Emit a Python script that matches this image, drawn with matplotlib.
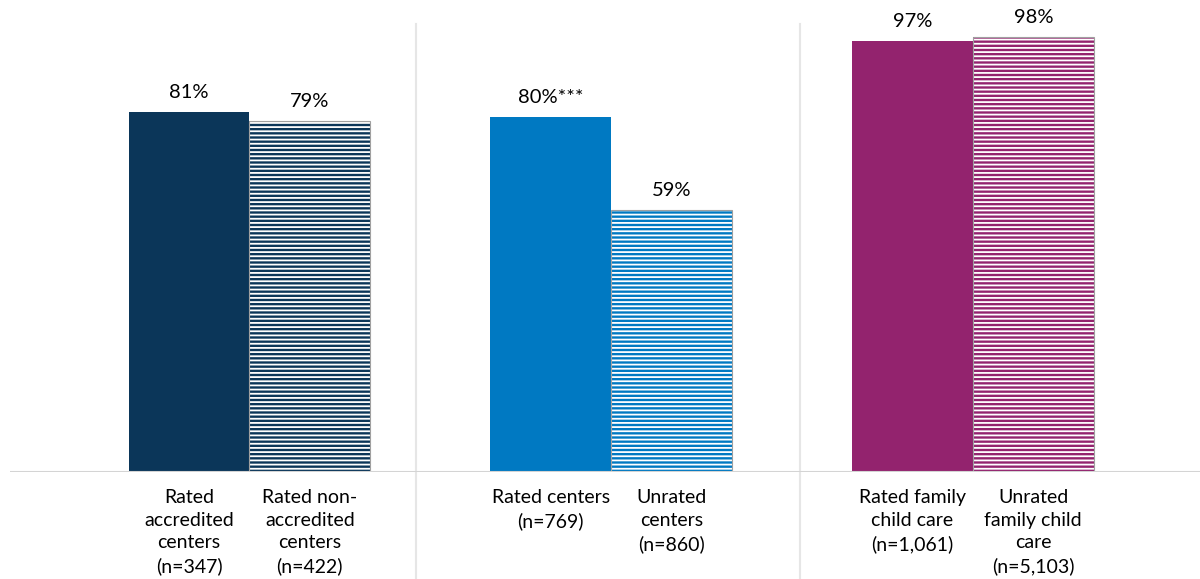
import matplotlib
matplotlib.use("Agg")
import matplotlib.pyplot as plt

# ---- data ----
groups = [0, 1, 2]
rated_vals = [81, 80, 97]
other_vals = [79, 59, 98]
rated_text = ["81%", "80%***", "97%"]
other_text = ["79%", "59%", "98%"]
rated_names = ["Rated\naccredited\ncenters\n(n=347)", "Rated centers\n(n=769)", "Rated family\nchild care\n(n=1,061)"]
other_names = ["Rated non-\naccredited\ncenters\n(n=422)", "Unrated\ncenters\n(n=860)", "Unrated\nfamily child\ncare\n(n=5,103)"]
colors = ["#0b3659", "#0079c2", "#93236e"]

plt.rcParams["font.family"] = ["Lato", "DejaVu Sans"]
plt.rcParams["hatch.color"] = "white"
plt.rcParams["hatch.linewidth"] = 1.3

fig = plt.figure(figsize=(12, 5.79), dpi=100)
ax = fig.add_axes([10 / 1200, 107 / 579, 1190 / 1200, 472 / 579])

w = 0.334
for g in groups:
    c = colors[g]
    # solid bar (rated)
    ax.bar(g - w / 2, rated_vals[g], width=w, color=c, linewidth=0)
    # striped bar (comparison)
    ax.bar(g + w / 2, other_vals[g], width=w, facecolor=c, edgecolor="white",
           linewidth=0, hatch="----")
    ax.bar(g + w / 2, other_vals[g], width=w, fill=False, edgecolor="#a0a0a0",
           linewidth=0.8)

    ax.annotate(rated_text[g], (g - w / 2, rated_vals[g]), xytext=(0, 8),
                textcoords="offset points", ha="center", va="bottom", fontsize=14.5)
    ax.annotate(other_text[g], (g + w / 2, other_vals[g]), xytext=(0, 8),
                textcoords="offset points", ha="center", va="bottom", fontsize=14.5)

    ax.annotate(rated_names[g], (g - w / 2, 0), xytext=(0, -12),
                textcoords="offset points", ha="center", va="top", fontsize=14,
                linespacing=1.42, annotation_clip=False)
    ax.annotate(other_names[g], (g + w / 2, 0), xytext=(0, -12),
                textcoords="offset points", ha="center", va="top", fontsize=14,
                linespacing=1.42, annotation_clip=False)

# light separators between groups
for sx in [0.460, 1.522]:
    ax.axvline(sx, ymin=-107 / 472, ymax=(472 - 24) / 472, color="#e6e6e6",
               linewidth=1.5, clip_on=False)

ax.axhline(0, color="#d4d4d4", linewidth=1.5)

ax.set_xlim(-0.662, 2.628)
ax.set_ylim(0, 106.3)
ax.set_xticks([])
ax.set_yticks([])
for s in ax.spines.values():
    s.set_visible(False)

fig.savefig("out.png", dpi=100)
